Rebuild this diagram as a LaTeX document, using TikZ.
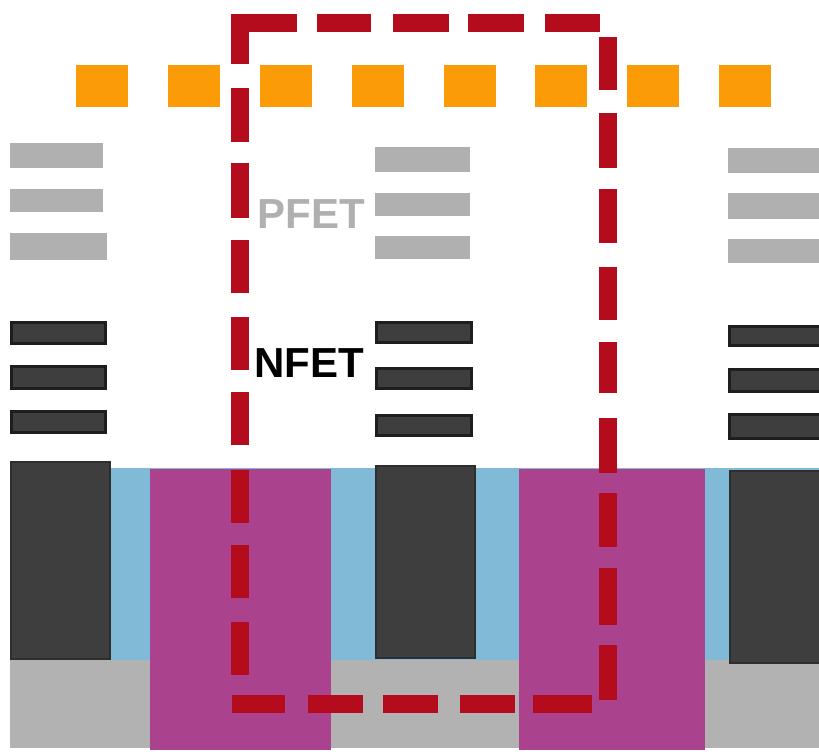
\documentclass[tikz,border=0pt]{standalone}
\usepackage{fontspec}
\setmainfont{Liberation Sans}
\definecolor{padorange}{RGB}{252,155,8}
\definecolor{pfetgray}{RGB}{176,176,176}
\definecolor{nfetdark}{RGB}{62,62,62}
\definecolor{edgedark}{RGB}{30,30,30}
\definecolor{blockedge}{RGB}{46,46,46}
\definecolor{spacerblue}{RGB}{128,186,214}
\definecolor{wellpurple}{RGB}{170,66,141}
\definecolor{basegray}{RGB}{178,178,178}
\definecolor{cellred}{RGB}{180,12,28}
\tikzset{
  padbox/.style={rectangle,fill=padorange,minimum width=39pt,minimum height=32pt,inner sep=0pt},
  darkblock/.style={fill=nfetdark,draw=blockedge,line width=1.5pt},
  darkfin/.style={fill=nfetdark,draw=edgedark,line width=2.25pt},
  celldash/.style={cellred,line width=13.5pt},
  fetlabel/.style={font=\bfseries\fontsize{31.5}{32}\selectfont,inner sep=0pt}}
\begin{document}
\begin{tikzpicture}[x=0.75pt,y=-0.75pt]
\useasboundingbox (0,0) rectangle (819,754);
% bottom layers
\fill[basegray] (10,655) rectangle (819,748);
\fill[spacerblue] (111,468) rectangle (819,660);
\fill[wellpurple] (150,469) rectangle (331,750);
\fill[wellpurple] (519,469) rectangle (705,750);
\foreach \xa/\xb/\ya/\yb in {10/111/461/660,375/476/465/659,729/821/470/664}
  \draw[darkblock] (\xa+1,\ya+1) rectangle (\xb-1,\yb-1);
% pads
\foreach \i/\xc in {1/102,2/194,3/286,4/378,5/470,6/561,7/653,8/745}
  \node (pad\i) [padbox] at (\xc,86) {};
% PFET fins
\foreach \xa/\xb/\ya/\yb in {10/103/143/168,10/103/189/212,10/107/233/260,375/470/147/172,375/470/193/216,375/470/236/259,728/819/148/173,728/819/193/219,728/819/239/263}
  \fill[pfetgray] (\xa,\ya) rectangle (\xb,\yb);
% NFET fins
\foreach \xa/\xb/\ya/\yb in {10/107/321/345,10/107/365/390,10/107/410/434,375/473/321/344,375/473/367/390,375/473/414/437,728/823/325/347,728/823/368/393,728/823/413/440}
  \draw[darkfin] (\xa+1.5,\ya+1.5) rectangle (\xb-1.5,\yb-1.5);
% labels
\node (pfet) [fetlabel,text=pfetgray] at (311,214) {PFET};
\node (nfet) [fetlabel,text=black] at (309,363) {NFET};
% cell outline
\draw[celldash] (240,64) -- (240,23) -- (297,23);
\foreach \xa/\xb in {317/371,393/449,468/524,545/600}
  \draw[celldash] (\xa,23) -- (\xb,23);
\foreach \ya/\yb in {88/142,163/218,240/293,317/370,392/445,470/523,545/598,622/675}
  \draw[celldash] (240,\ya) -- (240,\yb);
\foreach \ya/\yb in {37/90,113/168,189/243,267/320,342/393,418/473,493/547,568/625,645/700}
  \draw[celldash] (608,\ya) -- (608,\yb);
\foreach \xa/\xb in {232/285,308/363,383/438,460/515,533/592}
  \draw[celldash] (\xa,704) -- (\xb,704);
\end{tikzpicture}
\end{document}
